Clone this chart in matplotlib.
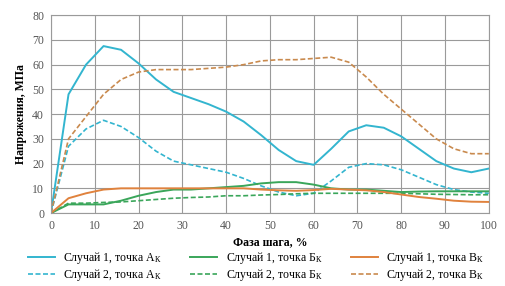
import matplotlib
matplotlib.use('Agg')
import matplotlib.pyplot as plt

plt.rcParams['font.family'] = 'serif'
plt.rcParams['font.serif'] = ['Liberation Serif', 'DejaVu Serif']
plt.rcParams['mathtext.fontset'] = 'custom'
plt.rcParams['mathtext.rm'] = 'Liberation Serif'
plt.rcParams['mathtext.it'] = 'Liberation Serif:italic'
plt.rcParams['mathtext.bf'] = 'Liberation Serif:bold'

phase = list(range(0, 101, 4))

case1_a = [0, 48, 60, 67.5, 66, 60.5, 54, 49, 46.5, 44, 41, 37, 31.5, 25.5, 21, 19.5,
           26, 33, 35.5, 34.5, 31, 26, 21, 18, 16.5, 18]
case2_a = [0, 27, 34, 37.5, 35, 30.5, 25, 21, 19.5, 18, 16.5, 14, 11, 8.5, 7, 8,
           13, 18.5, 20, 19.5, 17.5, 14.5, 11.5, 9.5, 8.5, 8]
case1_b = [0, 3.5, 3.5, 3.5, 5, 7, 8.5, 9.5, 9.5, 10, 10.5, 11, 12, 12.5, 12.5, 11.5,
           10, 9.5, 9.5, 9, 8.5, 8.7, 8.8, 8.8, 8.8, 8.8]
case2_b = [0, 4, 4, 4.3, 4.5, 5, 5.5, 6, 6.3, 6.5, 7, 7, 7.3, 7.5, 7.8, 8,
           8, 8, 8, 8, 8, 7.8, 7.6, 7.5, 7.4, 7.4]
case1_v = [0, 6, 8, 9.5, 10, 10, 10, 10, 10, 10, 10, 10, 9.5, 9.2, 9, 9.3,
           9.8, 9.5, 9.2, 8.5, 7.5, 6.5, 5.8, 5, 4.6, 4.5]
case2_v = [0, 30, 39, 48, 54, 57, 58, 58, 58, 58.5, 59, 60, 61.5, 62, 62, 62.5,
           63, 61, 55, 48, 42, 36, 30, 26, 24, 24]

CYAN = '#33b5cf'
GREEN = '#3aa65a'
ORANGE = '#e0823d'
ORANGE_D = '#c98a4e'
DASH = (0, (3, 1.5))
SUB = '$_\\mathrm{К}$'

fig = plt.figure(figsize=(5.05, 2.86), dpi=100)
ax = fig.add_axes([0.101, 0.255, 0.867, 0.692])

ax.plot(phase, case1_a, color=CYAN, lw=1.4, label='Случай 1, точка А' + SUB)
ax.plot(phase, case2_a, color=CYAN, lw=1.2, ls=DASH, label='Случай 2, точка А' + SUB)
ax.plot(phase, case1_b, color=GREEN, lw=1.4, label='Случай 1, точка Б' + SUB)
ax.plot(phase, case2_b, color=GREEN, lw=1.2, ls=DASH, label='Случай 2, точка Б' + SUB)
ax.plot(phase, case1_v, color=ORANGE, lw=1.4, label='Случай 1, точка В' + SUB)
ax.plot(phase, case2_v, color=ORANGE_D, lw=1.2, ls=DASH, label='Случай 2, точка В' + SUB)

ax.set_xlim(0, 100)
ax.set_ylim(0, 80)
ax.set_xticks(range(0, 101, 10))
ax.set_yticks(range(0, 81, 10))
ax.grid(True, color='#9a9a9a', lw=0.8)
ax.set_axisbelow(True)
for s in ax.spines.values():
    s.set_color('#9a9a9a')
    s.set_linewidth(0.8)
ax.tick_params(length=0, pad=5, labelsize=8.5, colors='#555555')

ax.set_xlabel('Фаза шага, %', fontsize=8.5, fontweight='bold', labelpad=3)
ax.set_ylabel('Напряжения, МПа', fontsize=8.5, fontweight='bold', labelpad=4)

ax.legend(loc='upper center', bbox_to_anchor=(0.468, -0.155), ncol=3, frameon=False,
          fontsize=8.5, handlelength=2.3, columnspacing=2.4, labelspacing=0.1,
          handletextpad=0.7, borderpad=0)

fig.savefig('out.png', dpi=100)
